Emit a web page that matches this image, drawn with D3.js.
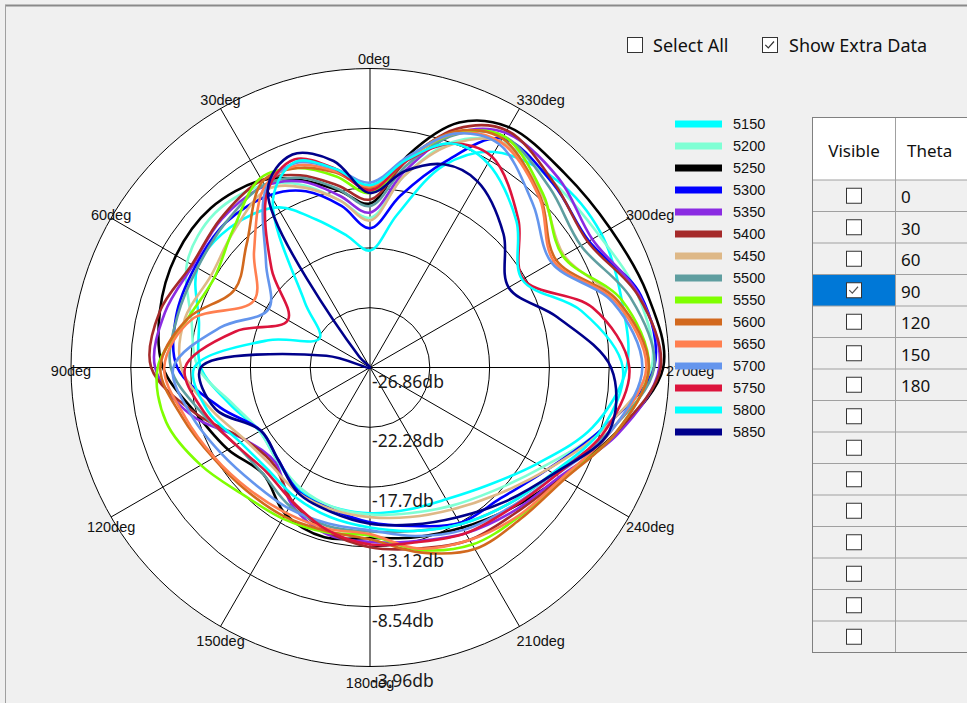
<!DOCTYPE html>
<html><head><meta charset="utf-8">
<script src="https://cdn.jsdelivr.net/npm/d3@7"></script>
<style>
html,body{margin:0;padding:0;background:#f0f0f0;overflow:hidden}
svg{display:block}
</style></head>
<body><svg id="c" width="967" height="703"></svg>
<script>
// ---------------- data ----------------
const angles = [0,10,20,30,45,60,75,90,105,120,135,150,165,180,195,210,225,240,255,270,285,300,315,330,340,350];
const seriesNames = ["5150","5200","5250","5300","5350","5400","5450","5500","5550","5600","5650","5700","5750","5800","5850"];
const seriesColors = ["#00ffff","#7fffd4","#000000","#0000ff","#8a2be2","#a52a2a","#deb887","#5f9ea0","#7fff00","#d2691e","#ff7f50","#6495ed","#dc143c","#00ffff","#00008b"];
const s5150 = [-17.9,-16.6,-14.8,-12.7,-11.7,-11.6,-13.3,-13.9,-15.8,-17.1,-16.8,-16.0,-15.8,-15.7,-15.6,-15.2,-14.1,-12.1,-9.2,-7.2,-6.9,-6.4,-6.6,-7.8,-10.4,-15.0];
const s5200 = [-15.4,-13.9,-12.0,-10.7,-10.1,-10.7,-12.7,-13.7,-16.0,-17.1,-16.8,-16.2,-15.8,-15.6,-15.3,-14.6,-13.5,-11.6,-8.5,-5.3,-5.6,-6.6,-6.9,-6.9,-8.5,-12.0];
const s5250 = [-14.3,-13.1,-11.6,-10.3,-9.6,-9.7,-10.2,-11.0,-13.1,-14.3,-15.3,-13.9,-13.4,-13.8,-13.4,-12.7,-11.6,-10.0,-7.4,-4.4,-4.9,-5.6,-5.8,-5.6,-6.9,-10.4];
const s5300 = [-16.2,-14.3,-12.5,-11.6,-11.2,-11.4,-11.5,-12.1,-15.0,-17.2,-16.9,-15.9,-15.6,-15.0,-14.3,-13.1,-12.7,-11.2,-8.5,-5.1,-5.4,-7.5,-7.0,-6.6,-10.1,-13.5];
const s5350 = [-15.0,-13.5,-11.7,-10.8,-10.8,-11.2,-10.6,-10.4,-12.7,-15.8,-16.6,-14.8,-13.7,-13.5,-13.1,-12.2,-11.3,-10.1,-7.2,-4.7,-5.5,-7.2,-6.4,-6.1,-7.8,-11.6];
const s5400 = [-14.0,-12.7,-11.2,-10.3,-10.7,-11.1,-10.2,-10.1,-13.1,-15.8,-16.4,-15.0,-13.9,-13.1,-12.5,-11.6,-11.1,-9.9,-7.4,-4.6,-5.6,-7.6,-6.9,-5.9,-7.4,-10.8];
const s5450 = [-15.6,-13.9,-12.2,-11.1,-12.1,-12.8,-12.2,-12.4,-14.3,-15.8,-16.2,-15.8,-15.6,-15.4,-15.0,-14.3,-13.1,-11.2,-8.4,-5.6,-7.2,-9.7,-8.2,-6.9,-8.7,-12.0];
const s5500 = [-14.5,-13.0,-11.4,-10.7,-11.2,-11.6,-11.6,-11.6,-13.5,-15.0,-15.3,-14.6,-14.3,-14.3,-13.9,-13.0,-12.0,-10.6,-7.9,-5.1,-6.2,-8.2,-7.4,-6.4,-7.9,-11.2];
const s5550 = [-13.5,-12.0,-10.6,-10.1,-12.0,-13.1,-12.4,-10.6,-10.7,-11.9,-13.1,-13.5,-13.8,-14.0,-12.4,-11.2,-10.7,-9.8,-7.4,-5.5,-6.9,-9.8,-8.1,-6.4,-7.8,-10.7];
const s5600 = [-13.1,-11.7,-10.6,-10.4,-13.5,-14.9,-12.4,-10.8,-12.0,-13.0,-13.5,-13.7,-13.9,-13.7,-12.2,-10.8,-10.5,-9.7,-7.4,-5.5,-7.2,-10.4,-8.4,-6.6,-7.6,-10.6];
const s5650 = [-13.0,-11.6,-10.4,-10.8,-14.3,-16.6,-12.7,-11.1,-12.2,-13.1,-13.7,-14.0,-14.1,-14.1,-12.5,-11.6,-10.8,-9.9,-7.8,-5.7,-7.4,-10.6,-8.5,-6.9,-7.8,-10.6];
const s5700 = [-12.7,-11.4,-10.2,-11.0,-15.6,-17.9,-15.0,-11.8,-12.7,-13.7,-14.3,-14.4,-14.5,-14.4,-13.5,-12.5,-11.7,-10.4,-7.8,-6.0,-7.6,-10.8,-9.2,-7.1,-7.8,-10.5];
const s5750 = [-13.3,-11.4,-9.9,-11.2,-16.2,-19.6,-16.2,-12.7,-13.7,-15.0,-15.6,-15.0,-14.0,-13.3,-13.0,-12.2,-11.6,-10.4,-8.2,-7.0,-9.2,-13.3,-10.8,-8.2,-8.6,-10.8];
const s5800 = [-12.9,-11.4,-10.1,-12.0,-19.8,-22.4,-18.8,-13.4,-14.0,-15.4,-15.8,-15.4,-15.0,-14.6,-13.9,-13.0,-12.0,-10.7,-8.5,-7.5,-10.1,-13.4,-11.0,-8.8,-8.6,-10.7];
const s5850 = [-13.5,-10.8,-9.5,-11.2,-25.7,-26.9,-23.4,-13.9,-14.6,-17.2,-16.9,-15.8,-15.4,-14.9,-14.4,-13.6,-12.3,-10.6,-7.9,-8.4,-12.0,-14.6,-12.4,-10.4,-10.3,-11.6];
const seriesValues = [s5150,s5200,s5250,s5300,s5350,s5400,s5450,s5500,s5550,s5600,s5650,s5700,s5750,s5800,s5850];
const radialTicks = [-26.86,-22.28,-17.7,-13.12,-8.54,-3.96];
const angleTicks = [0,30,60,90,120,150,180,210,240,270,300,330];
const thetaRows = ["0","30","60","90","120","150","180","","","","","","","",""];
const visibleRows = [false,false,false,true,false,false,false,false,false,false,false,false,false,false,false];
const selectedRow = 3;

// ---------------- drawing ----------------
const svg = d3.select("#c");
const W = 967, H = 703;
const cx = 370, cy = 367.5, R = 299;
const chartFont = "'Liberation Sans', Arial, sans-serif";
const uiFont = "'Noto Sans', 'Open Sans', sans-serif";

svg.append("rect").attr("width", W).attr("height", H).attr("fill", "#f0f0f0");
svg.append("line").attr("x1", 5).attr("x2", W).attr("y1", 5.5).attr("y2", 5.5).attr("stroke", "#8a8a8a").attr("stroke-width", 2);
svg.append("line").attr("x1", 5.5).attr("x2", 5.5).attr("y1", 5).attr("y2", H).attr("stroke", "#a0a0a0").attr("stroke-width", 1);

const r = d3.scaleLinear().domain([radialTicks[0], radialTicks[radialTicks.length-1]]).range([0, R]).clamp(true);
const g = svg.append("g").attr("transform", `translate(${cx},${cy})`);

g.append("circle").attr("r", R).attr("fill", "#ffffff").attr("stroke", "#000").attr("stroke-width", 1);
g.selectAll("circle.ring").data(radialTicks.slice(1, -1)).join("circle").attr("class", "ring")
  .attr("r", d => r(d)).attr("fill", "none").attr("stroke", "#000").attr("stroke-width", 1);
g.selectAll("line.spoke").data(angleTicks).join("line").attr("class", "spoke")
  .attr("x1", 0).attr("y1", 0)
  .attr("x2", d => -R * Math.sin(d * Math.PI / 180))
  .attr("y2", d => -R * Math.cos(d * Math.PI / 180))
  .attr("stroke", "#000").attr("stroke-width", 1);

const lineGen = d3.lineRadial()
  .angle((d, i) => -angles[i] * Math.PI / 180)
  .radius(d => r(d))
  .curve(d3.curveCatmullRomClosed.alpha(0.5));

g.selectAll("path.series").data(seriesValues).join("path").attr("class", "series")
  .attr("d", d => lineGen(d))
  .attr("fill", "none")
  .attr("stroke", (d, i) => seriesColors[i])
  .attr("stroke-width", 2.6)
  .attr("stroke-linejoin", "round");

// angle labels
g.selectAll("text.ang").data(angleTicks).join("text").attr("class", "ang")
  .attr("x", d => {
    const px = -R * Math.sin(d * Math.PI / 180);
    return (d > 180) ? px - 3 : px + (d === 0 ? 4 : 0);
  })
  .attr("y", d => -R * Math.cos(d * Math.PI / 180) + 3 - 13 * Math.cos(d * Math.PI / 180))
  .attr("text-anchor", d => d > 180 ? "start" : "middle")
  .attr("dominant-baseline", "central")
  .attr("font-family", chartFont).attr("font-size", 14.5).attr("fill", "#111")
  .text(d => d + "deg");

// radial labels
g.selectAll("text.rad").data(radialTicks).join("text").attr("class", "rad")
  .attr("x", 2)
  .attr("y", d => r(d) + 13)
  .attr("dominant-baseline", "central")
  .attr("font-family", uiFont).attr("font-size", 17.5).attr("fill", "#1a1a1a")
  .text(d => d + "db");

// legend
const leg = svg.append("g");
const legY0 = 124, legStep = 22;
seriesNames.forEach((name, i) => {
  const y = legY0 + i * legStep;
  leg.append("rect").attr("x", 675).attr("y", y - 3.5).attr("width", 47).attr("height", 7).attr("fill", seriesColors[i]);
  leg.append("text").attr("x", 733).attr("y", y).attr("dominant-baseline", "central")
    .attr("font-family", chartFont).attr("font-size", 14.5).attr("fill", "#111").text(name);
});

// checkboxes at top
function checkbox(parent, x, y, size, checked, checkColor) {
  parent.append("rect").attr("x", x + 0.5).attr("y", y + 0.5).attr("width", size).attr("height", size)
    .attr("fill", "#fff").attr("stroke", "#333").attr("stroke-width", 1);
  if (checked) {
    const s = size;
    parent.append("path")
      .attr("d", `M${x + s*0.22},${y + s*0.52} L${x + s*0.42},${y + s*0.72} L${x + s*0.8},${y + s*0.3}`)
      .attr("fill", "none").attr("stroke", checkColor || "#333").attr("stroke-width", 1.2);
  }
}
const topBar = svg.append("g");
checkbox(topBar, 627, 37, 15, false);
topBar.append("text").attr("x", 653).attr("y", 45).attr("dominant-baseline", "central")
  .attr("font-family", uiFont).attr("font-size", 18).attr("fill", "#111").text("Select All");
checkbox(topBar, 762, 37, 15, true);
topBar.append("text").attr("x", 789).attr("y", 45).attr("dominant-baseline", "central")
  .attr("font-family", uiFont).attr("font-size", 18).attr("fill", "#111").text("Show Extra Data");

// table
const tb = svg.append("g");
const tx0 = 812.5, tx1 = 895.5, ty0 = 117.5, hdrH = 62.5, rowH = 31.5;
const ty1 = ty0 + hdrH + rowH * thetaRows.length;
tb.append("rect").attr("x", tx0).attr("y", ty0).attr("width", W - tx0 + 5).attr("height", hdrH).attr("fill", "#fff");
tb.append("rect").attr("x", tx0).attr("y", ty0 + hdrH).attr("width", W - tx0 + 5).attr("height", rowH * thetaRows.length).attr("fill", "#f0f0f0");
tb.append("rect").attr("x", tx0).attr("y", ty0 + hdrH + rowH * selectedRow).attr("width", tx1 - tx0).attr("height", rowH).attr("fill", "#0078d7");
thetaRows.forEach((t, i) => {
  const y = ty0 + hdrH + rowH * (i + 1);
  tb.append("line").attr("x1", tx0).attr("x2", W).attr("y1", y).attr("y2", y).attr("stroke", "#a0a0a0").attr("stroke-width", 1);
  const yc = ty0 + hdrH + rowH * i + rowH / 2;
  checkbox(tb, 846, yc - 8, 15, visibleRows[i], "#555");
  tb.append("text").attr("x", 901).attr("y", yc + 1).attr("dominant-baseline", "central")
    .attr("font-family", uiFont).attr("font-size", 17).attr("fill", "#111").text(t);
});
tb.append("line").attr("x1", tx0).attr("x2", W).attr("y1", ty0 + hdrH).attr("y2", ty0 + hdrH).attr("stroke", "#a0a0a0").attr("stroke-width", 1);
tb.append("line").attr("x1", tx1).attr("x2", tx1).attr("y1", ty0).attr("y2", ty1).attr("stroke", "#a0a0a0").attr("stroke-width", 1);
tb.append("rect").attr("x", tx0).attr("y", ty0).attr("width", W - tx0 + 5).attr("height", ty1 - ty0)
  .attr("fill", "none").attr("stroke", "#808080").attr("stroke-width", 1);
tb.append("text").attr("x", (tx0 + tx1) / 2).attr("y", ty0 + hdrH / 2 + 2).attr("text-anchor", "middle").attr("dominant-baseline", "central")
  .attr("font-family", uiFont).attr("font-size", 17).attr("fill", "#111").text("Visible");
tb.append("text").attr("x", 907).attr("y", ty0 + hdrH / 2 + 2).attr("dominant-baseline", "central")
  .attr("font-family", uiFont).attr("font-size", 17).attr("fill", "#111").text("Theta");
</script>
</body></html>
